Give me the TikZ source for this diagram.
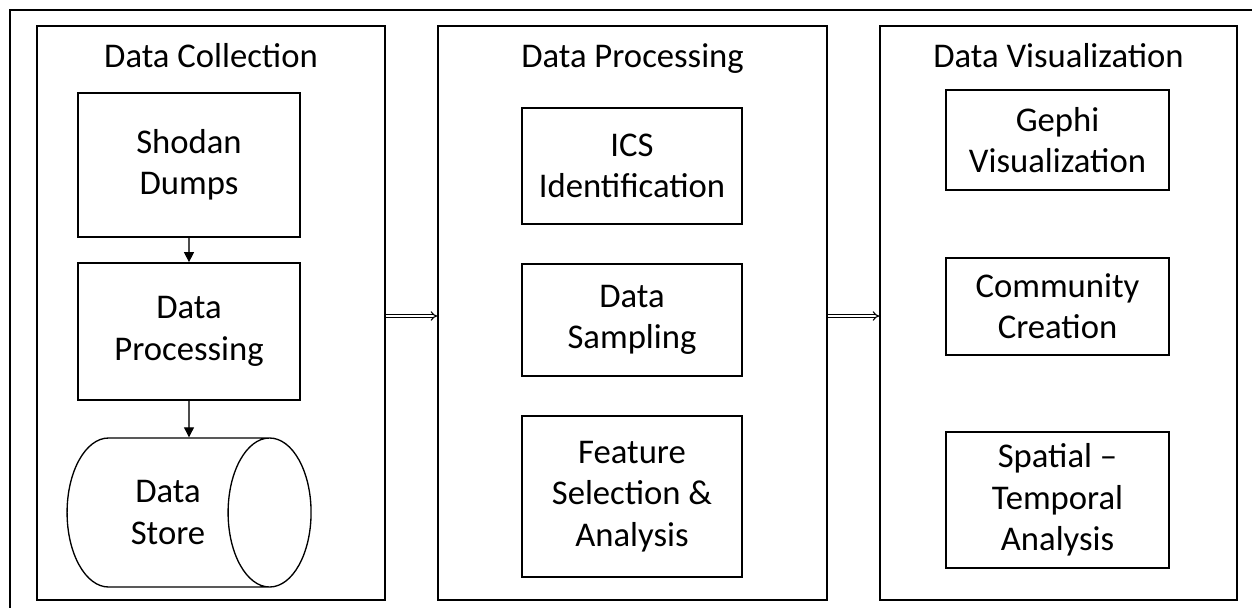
\documentclass[tikz,border=0pt]{standalone}
\usepackage{fontspec}
\setmainfont{Carlito}
\usetikzlibrary{shapes.geometric,arrows.meta}
\begin{document}
\begin{tikzpicture}[x=0.75pt,y=-0.75pt]
\tikzstyle{every node}+=[inner sep=0pt, align=center, font=\fontsize{26}{31}\selectfont]
\tikzstyle{panel}=[draw, line width=1.3pt, minimum height=430.5pt]
\tikzstyle{box}=[draw, line width=1.3pt]
\tikzstyle{link}=[draw=black!70, line width=0.8pt, -{Triangle[length=7.5pt,width=7.5pt,color=black]}]
\tikzstyle{flow}=[double, double distance=1.6pt, line width=0.8pt, -Implies]
\useasboundingbox (0,0) rectangle (1252,607);
\draw [line width=1.3pt] (10,620) -- (10,10) -- (1265,10);
% panels
\node [panel, minimum width=261pt] (coll) at (211,313) {};
\node [panel, minimum width=291.75pt] (proc) at (632.5,313) {};
\node [panel, minimum width=267.75pt] (vis) at (1058.5,313) {};
\node [anchor=base] (colltitle) at (211,67) {Data Collection};
\node [anchor=base] (proctitle) at (632.5,67) {Data Processing};
\node [anchor=base] (vistitle) at (1058.5,67) {Data Visualization};
% data collection
\node [box, minimum width=166.5pt, minimum height=108pt] (shodan) at (189,165) {Shodan\\Dumps};
\node [box, minimum width=166.5pt, minimum height=102.75pt] (dproc) at (189,331.5) {Data\\Processing};
\node [draw, line width=1pt, cylinder, aspect=1.3, minimum width=111.75pt, minimum height=183pt] (store) at (168,512.5) {Data\\Store};
\draw [link] (shodan) -- (dproc);
\draw [link] (dproc) -- (dproc |- store.north);
% data processing
\node [box, minimum width=165pt, minimum height=87pt] (ics) at (632,166) {ICS\\Identification};
\node [box, minimum width=165pt, minimum height=84pt] (samp) at (632,320) {Data\\Sampling};
\node [box, minimum width=165pt, minimum height=120.75pt] (feat) at (632,496.5) {Feature\\Selection \&\\Analysis};
% data visualization
\node [box, minimum width=167.25pt, minimum height=75pt] (gephi) at (1057.5,140) {Gephi\\Visualization};
\node [box, minimum width=167.25pt, minimum height=72.75pt] (comm) at (1057.5,306.5) {Community\\Creation};
\node [box, minimum width=167.25pt, minimum height=102pt] (spat) at (1057.5,500) {Spatial –\\Temporal\\Analysis};
\draw [flow] ([yshift=-2.25pt]coll.east) -- ([yshift=-2.25pt]proc.west);
\draw [flow] ([yshift=-2.25pt]proc.east) -- ([yshift=-2.25pt]vis.west);
\end{tikzpicture}
\end{document}
